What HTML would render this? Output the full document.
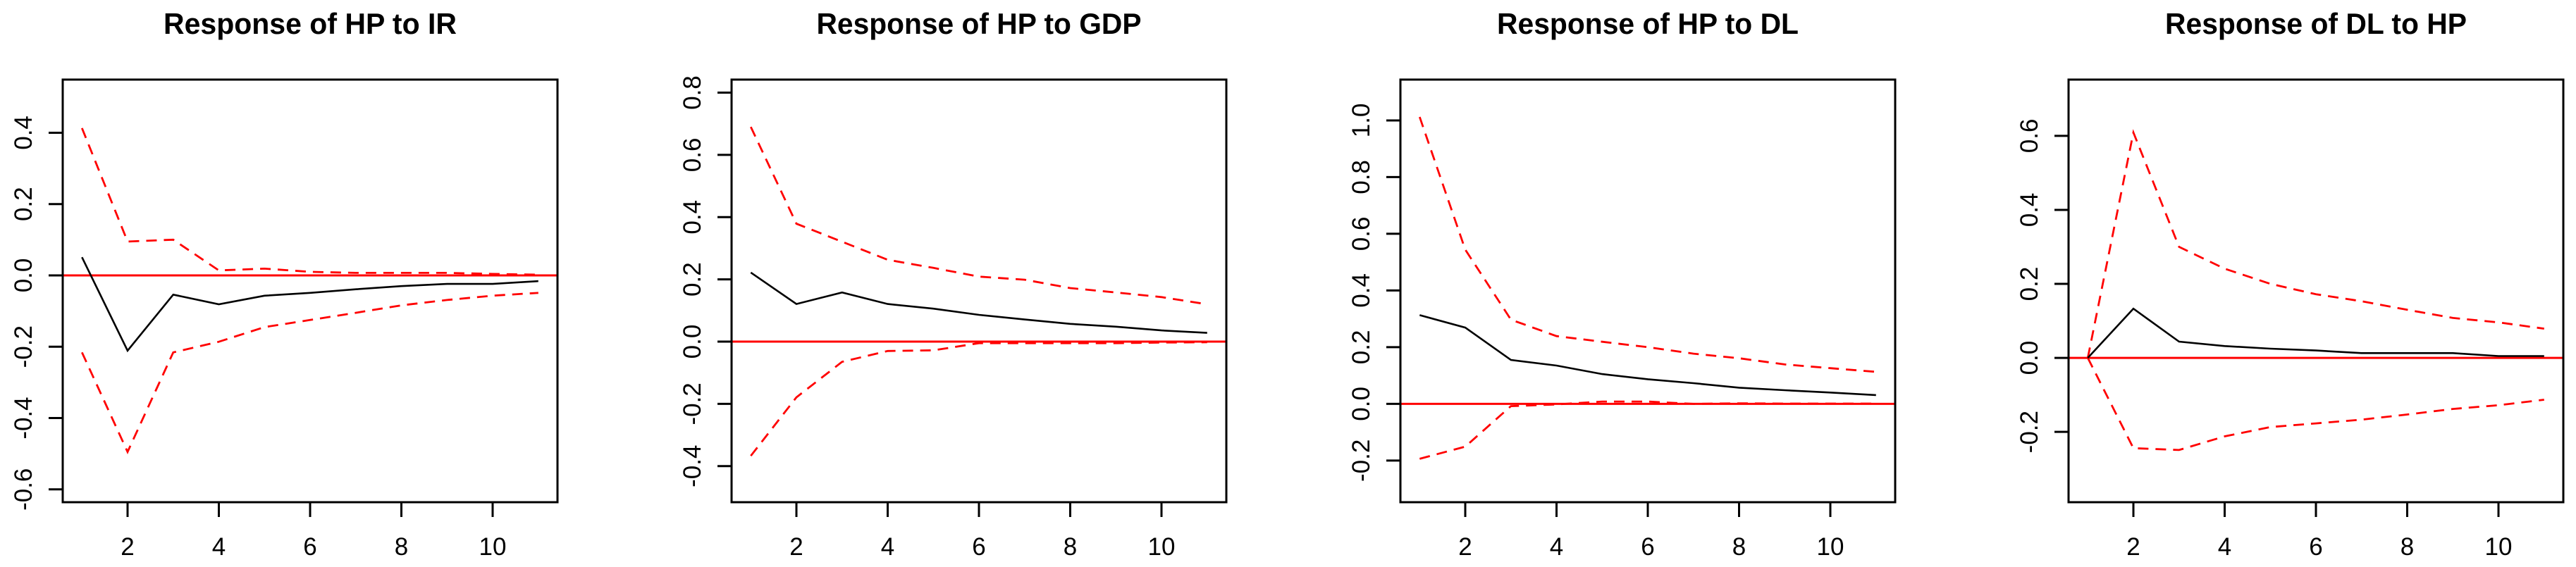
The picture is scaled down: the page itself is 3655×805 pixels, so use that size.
<!DOCTYPE html>
<html><head><meta charset="utf-8"><style>
html,body{margin:0;padding:0;background:#fff;}
svg{display:block;}
</style></head>
<body>
<svg id="chart" width="3655" height="805" viewBox="0 0 3655 805" xmlns="http://www.w3.org/2000/svg"></svg>
<script>
const periods = [1,2,3,4,5,6,7,8,9,10,11];
const xTickLabels = [2,4,6,8,10];
const titles = ["Response of HP to IR","Response of HP to GDP","Response of HP to DL","Response of DL to HP"];

const irfHPtoIR   = [0.051,-0.211,-0.054,-0.081,-0.057,-0.049,-0.039,-0.030,-0.024,-0.024,-0.016];
const upperHPtoIR = [0.413,0.095,0.100,0.014,0.019,0.010,0.007,0.007,0.007,0.004,0.002];
const lowerHPtoIR = [-0.216,-0.495,-0.216,-0.186,-0.145,-0.125,-0.105,-0.084,-0.069,-0.057,-0.049];
const yTicksHPtoIR = ["-0.6","-0.4","-0.2","0.0","0.2","0.4"];

const irfHPtoGDP   = [0.222,0.121,0.158,0.121,0.106,0.086,0.071,0.057,0.048,0.036,0.028];
const upperHPtoGDP = [0.690,0.379,0.321,0.263,0.237,0.209,0.199,0.172,0.158,0.143,0.120];
const lowerHPtoGDP = [-0.367,-0.179,-0.065,-0.030,-0.028,-0.005,-0.005,-0.005,-0.005,-0.003,-0.002];
const yTicksHPtoGDP = ["-0.4","-0.2","0.0","0.2","0.4","0.6","0.8"];

const irfHPtoDL   = [0.313,0.269,0.155,0.135,0.105,0.087,0.073,0.057,0.048,0.040,0.031];
const upperHPtoDL = [1.012,0.544,0.297,0.239,0.219,0.200,0.177,0.161,0.139,0.126,0.113];
const lowerHPtoDL = [-0.194,-0.151,-0.008,-0.002,0.008,0.008,0.000,0.002,0.001,0.001,0.001];
const yTicksHPtoDL = ["-0.2","0.0","0.2","0.4","0.6","0.8","1.0"];

const irfDLtoHP   = [0.000,0.133,0.044,0.032,0.025,0.020,0.013,0.013,0.013,0.005,0.005];
const upperDLtoHP = [0.000,0.609,0.300,0.241,0.200,0.172,0.153,0.130,0.108,0.096,0.079];
const lowerDLtoHP = [0.000,-0.244,-0.249,-0.212,-0.187,-0.177,-0.167,-0.153,-0.138,-0.128,-0.113];
const yTicksDLtoHP = ["-0.2","0.0","0.2","0.4","0.6"];

const NS = "http://www.w3.org/2000/svg";
const svg = document.getElementById('chart');
function mk(tag, attrs, parent){
  const e = document.createElementNS(NS, tag);
  for (const k in attrs) e.setAttribute(k, attrs[k]);
  (parent||svg).appendChild(e);
  return e;
}

const panels = [
  {left:89,  ymax:0.549, ymin:-0.636, tw:416, irf:irfHPtoIR,  up:upperHPtoIR,  lo:lowerHPtoIR,  ticks:yTicksHPtoIR,  key:'hp-to-ir'},
  {left:1038,ymax:0.842, ymin:-0.516, tw:461, irf:irfHPtoGDP, up:upperHPtoGDP, lo:lowerHPtoGDP, ticks:yTicksHPtoGDP, key:'hp-to-gdp'},
  {left:1987,ymax:1.144, ymin:-0.347, tw:428, irf:irfHPtoDL,  up:upperHPtoDL,  lo:lowerHPtoDL,  ticks:yTicksHPtoDL,  key:'hp-to-dl'},
  {left:2935,ymax:0.752, ymin:-0.390, tw:428, irf:irfDLtoHP,  up:upperDLtoHP,  lo:lowerDLtoHP,  ticks:yTicksDLtoHP,  key:'dl-to-hp'}
];
const TOP = 113, BOT = 713, W = 702;

panels.forEach((p, i) => {
  const g = mk('g', {});
  
  
  const xs = v => p.left + 27.25 + (v - 1) * 64.75;
  const ys = v => TOP + (p.ymax - v) / (p.ymax - p.ymin) * (BOT - TOP);

  const t = mk('text', {x: p.left + W/2, y: 48, 'text-anchor':'middle', 'font-family':'"Liberation Sans", Arial, sans-serif', 'font-weight':'bold', 'font-size':'42', textLength:String(p.tw), lengthAdjust:'spacingAndGlyphs', fill:'#000'}, g);
  t.textContent = titles[i];
  
  

  const z = mk('line', {x1:p.left, x2:p.left+W, y1:ys(0), y2:ys(0), stroke:'#ff0000', 'stroke-width':3}, g);
  
  

  const pts = arr => arr.map((v, k) => xs(periods[k]).toFixed(1) + ',' + ys(v).toFixed(1)).join(' ');
  const up = mk('polyline', {points:pts(p.up), fill:'none', stroke:'#ff0000', 'stroke-width':2.8, 'stroke-dasharray':'15 10'}, g);
  
  
  const lo = mk('polyline', {points:pts(p.lo), fill:'none', stroke:'#ff0000', 'stroke-width':2.8, 'stroke-dasharray':'15 10'}, g);
  
  
  const ln = mk('polyline', {points:pts(p.irf), fill:'none', stroke:'#000', 'stroke-width':2.6}, g);
  
  

  const box = mk('rect', {x:p.left, y:TOP, width:W, height:BOT-TOP, fill:'none', stroke:'#000', 'stroke-width':3}, g);
  
  

  xTickLabels.forEach(v => {
    const x = xs(v);
    const tk = mk('line', {x1:x, x2:x, y1:BOT, y2:BOT+21, stroke:'#000', 'stroke-width':3}, g);
    
    
    const tl = mk('text', {x:x, y:788, 'text-anchor':'middle', 'font-family':'"Liberation Sans", Arial, sans-serif', 'font-size':'35', fill:'#000'}, g);
    tl.textContent = v;
    
    
  });
  p.ticks.forEach(s => {
    const y = ys(parseFloat(s));
    const tk = mk('line', {x1:p.left-20, x2:p.left, y1:y, y2:y, stroke:'#000', 'stroke-width':3}, g);
    
    
    const tx = p.left - 44;
    const tl = mk('text', {x:tx, y:y, transform:'rotate(-90 '+tx+' '+y+')', 'text-anchor':'middle', 'font-family':'"Liberation Sans", Arial, sans-serif', 'font-size':'35', fill:'#000'}, g);
    tl.textContent = s;
    
    
  });
});
</script>
</body></html>
